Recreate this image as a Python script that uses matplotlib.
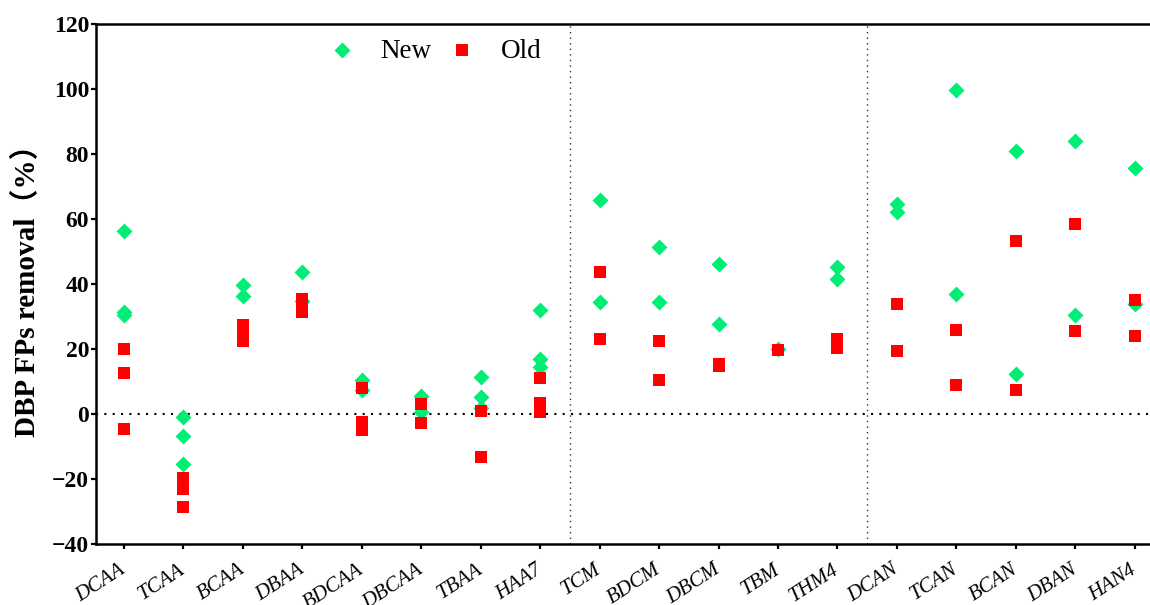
import matplotlib
matplotlib.use("Agg")
import matplotlib.pyplot as plt
import matplotlib.transforms as mtransforms

categories = ["DCAA", "TCAA", "BCAA", "DBAA", "BDCAA", "DBCAA", "TBAA", "HAA7",
              "TCM", "BDCM", "DBCM", "TBM", "THM4",
              "DCAN", "TCAN", "BCAN", "DBAN", "HAN4"]

new_values = [
    [56.3, 31.5, 30.5],
    [-1.0, -6.8, -15.5],
    [39.8, 36.2],
    [43.8, 34.8],
    [10.5, 7.5],
    [5.5, 0.5],
    [11.5, 5.2, 2.0],
    [32.0, 17.0, 14.5],
    [65.8, 34.6],
    [51.5, 34.5],
    [46.3, 27.7],
    [20.0],
    [45.2, 41.6],
    [64.5, 62.2],
    [99.8, 37.0],
    [81.0, 12.3],
    [84.0, 30.5],
    [75.7, 34.0],
]

old_values = [
    [20.0, 12.5, -4.6],
    [-19.6, -23.2, -28.6],
    [27.5, 25.0, 22.5],
    [35.5, 33.5, 31.5],
    [8.0, -2.5, -4.9],
    [3.0, -2.9],
    [0.8, -13.1],
    [11.2, 3.5, 0.6],
    [43.8, 23.1],
    [22.6, 10.4],
    [15.5, 14.8],
    [19.8],
    [23.0, 20.3],
    [34.0, 19.4],
    [25.9, 8.9],
    [53.3, 7.4],
    [58.4, 25.4],
    [35.1, 24.0],
]

series_labels = ["New", "Old"]
yticks = [-40, -20, 0, 20, 40, 60, 80, 100, 120]

GREEN = "#00EE76"
RED = "#FF0000"
SERIF = ["Liberation Serif", "DejaVu Serif"]

W, H = 1150, 605
fig = plt.figure(figsize=(W / 100, H / 100), dpi=100)
ax = fig.add_axes([96 / W, 61 / H, (W - 96) / W + 0.01, 520 / H])

nx, ny = [], []
for i, vals in enumerate(new_values):
    nx += [i] * len(vals)
    ny += vals
ox, oy = [], []
for i, vals in enumerate(old_values):
    ox += [i] * len(vals)
    oy += vals

ax.scatter(nx, ny, marker="D", s=66, color=GREEN, linewidths=0, label=series_labels[0], zorder=3)
ax.scatter(ox, oy, marker="s", s=70, color=RED, linewidths=0, label=series_labels[1], zorder=4)

ax.axhline(0, color="black", linestyle=(0, (1, 3)), linewidth=1.5, zorder=1)
for xv in (7.5, 12.5):
    ax.axvline(xv, color="#333333", linestyle=(0, (1, 3)), linewidth=1.0, zorder=1)

ax.set_xlim(-0.47, 17.45)
ax.set_ylim(-40, 120)
ax.set_yticks(yticks)
ax.set_yticklabels([str(v).replace("-", "\u2212") for v in yticks],
                   fontfamily=SERIF, fontweight="bold", fontsize=17)
ax.set_xticks(range(len(categories)))
ax.set_xticklabels(categories, rotation=33, ha="right", va="center", rotation_mode="anchor",
                   fontfamily=SERIF, fontstyle="italic", fontsize=15)
offset = mtransforms.ScaledTranslation(16 / 100, 0, fig.dpi_scale_trans)
for lbl in ax.get_xticklabels():
    lbl.set_transform(lbl.get_transform() + offset)

for sp in ax.spines.values():
    sp.set_linewidth(1.8)
ax.tick_params(axis="both", direction="out", length=3.5, width=1.6)
ax.tick_params(axis="y", pad=1.5)
ax.tick_params(axis="x", pad=14)

ax.set_ylabel("DBP FPs removal\uff08%\uff09", fontfamily=SERIF + ["Noto Sans CJK SC"],
              fontweight="bold", fontsize=21, labelpad=8)

leg = ax.legend(loc="center", bbox_to_anchor=(0.318, 0.948), ncol=2, frameon=False,
                scatterpoints=1, handlelength=1.0, handletextpad=0.94, columnspacing=0.61,
                prop={"family": SERIF, "size": 19.5})

fig.savefig("out.png", dpi=100)
